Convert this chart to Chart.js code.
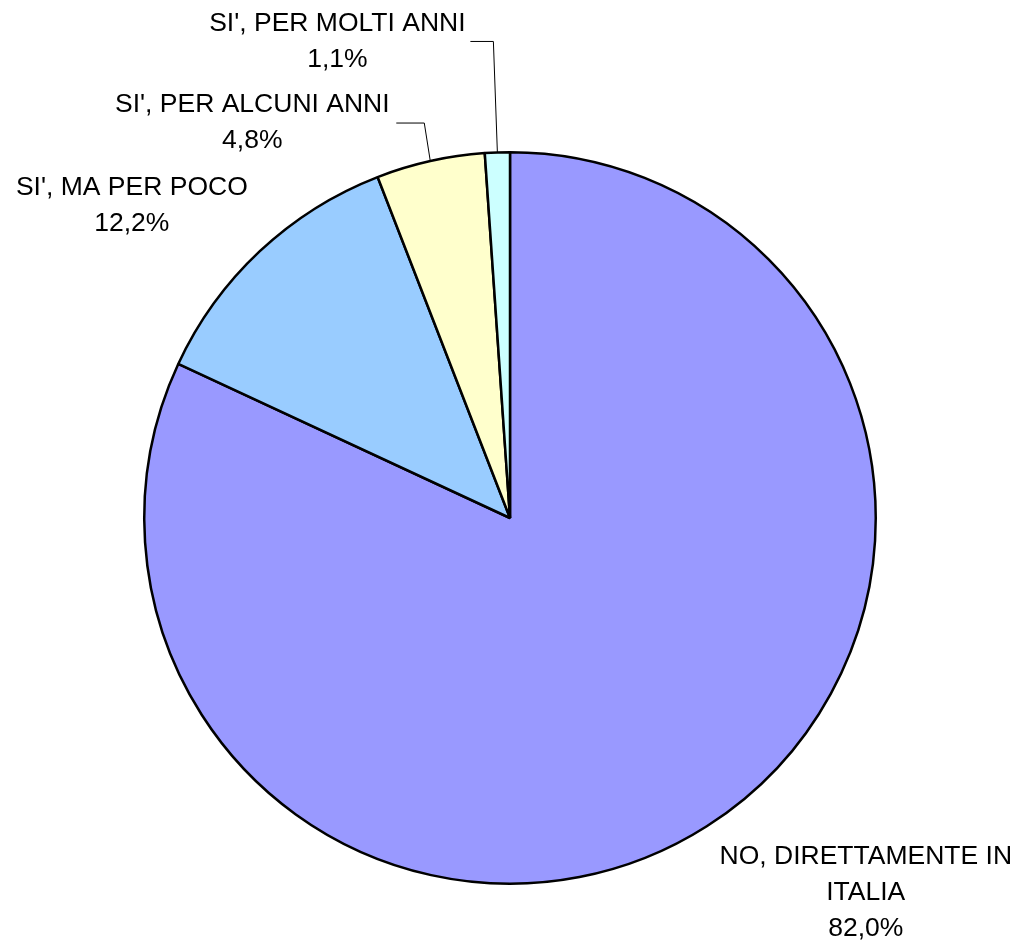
<!DOCTYPE html>
<html>
<head>
<meta charset="utf-8">
<script src="https://cdn.jsdelivr.net/npm/chart.js@4/dist/chart.umd.min.js"></script>
<style>
html,body{margin:0;padding:0;background:#fff;}
#wrap{width:1018px;height:941px;position:relative;}
</style>
</head>
<body>
<div id="wrap"><canvas id="c"></canvas></div>
<script>
const categories = ["NO, DIRETTAMENTE IN ITALIA", "SI', MA PER POCO", "SI', PER ALCUNI ANNI", "SI', PER MOLTI ANNI"];
const labelLines = [["NO, DIRETTAMENTE IN", "ITALIA"], ["SI', MA PER POCO"], ["SI', PER ALCUNI ANNI"], ["SI', PER MOLTI ANNI"]];
const values = [82.0, 12.2, 4.8, 1.1];
const colors = ["#9999FF", "#99CCFF", "#FFFFCC", "#CCFFFF"];

// label placement relative to the slice's outer-edge midpoint
const labelOffsets = [
  {dx: 159, dy: 66, leader: null},
  {dx: -128, dy: -46, leader: null},
  {dx: -178, dy: -38, leader: [[-6, -38], [-34, -38]]},
  {dx: -160, dy: -111, leader: [[-4, -111], [-27, -111]]}
];

const fmt = v => v.toFixed(1).replace('.', ',') + '%';

const labelPlugin = {
  id: 'pieLabels',
  afterDatasetsDraw(chart) {
    const ctx = chart.ctx;
    const meta = chart.getDatasetMeta(0);
    ctx.save();
    ctx.font = '26.5px "Liberation Sans", Arial, sans-serif';
    ctx.fillStyle = '#000';
    ctx.textAlign = 'center';
    ctx.textBaseline = 'middle';
    meta.data.forEach((arc, i) => {
      const p = arc.getProps(['x', 'y', 'startAngle', 'endAngle', 'outerRadius'], true);
      const mid = (p.startAngle + p.endAngle) / 2;
      const ex = p.x + Math.cos(mid) * p.outerRadius;
      const ey = p.y + Math.sin(mid) * p.outerRadius;
      const o = labelOffsets[i];
      if (o.leader) {
        ctx.beginPath();
        ctx.strokeStyle = '#000';
        ctx.lineWidth = 1;
        ctx.moveTo(ex, ey);
        o.leader.forEach(pt => ctx.lineTo(ex + pt[0], ey + pt[1]));
        ctx.stroke();
      }
      const lines = labelLines[i].concat([fmt(values[i])]);
      const lh = 36;
      const cx = ex + o.dx, cy = ey + o.dy;
      const top = cy - (lines.length - 1) * lh / 2;
      lines.forEach((t, k) => ctx.fillText(t, cx, top + k * lh));
    });
    ctx.restore();
  }
};

new Chart(document.getElementById('c'), {
  type: 'pie',
  data: {
    labels: categories,
    datasets: [{
      data: values,
      backgroundColor: colors,
      borderColor: '#000',
      borderWidth: 2.5
    }]
  },
  options: {
    responsive: true,
    maintainAspectRatio: false,
    animation: false,
    layout: {padding: {top: 151, bottom: 56, left: 143, right: 141}},
    plugins: {legend: {display: false}, tooltip: {enabled: false}}
  },
  plugins: [labelPlugin]
});
</script>
</body>
</html>
